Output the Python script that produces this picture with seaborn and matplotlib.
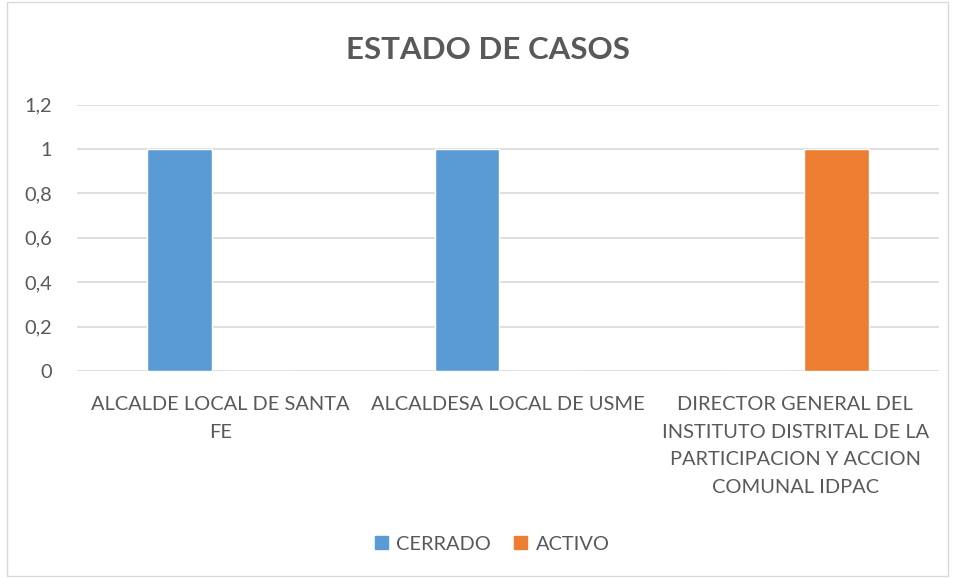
import matplotlib
matplotlib.use("Agg")
import matplotlib.pyplot as plt
import seaborn as sns
import pandas as pd
from matplotlib.patches import Rectangle

categories = ["ALCALDE LOCAL DE SANTA\nFE",
              "ALCALDESA LOCAL DE USME",
              "DIRECTOR GENERAL DEL\nINSTITUTO DISTRITAL DE LA\nPARTICIPACION Y ACCION\nCOMUNAL IDPAC"]
series = ["CERRADO", "ACTIVO"]
cerrado = [1, 1, 0]
activo = [0, 0, 1]
yticks = [0, 0.2, 0.4, 0.6, 0.8, 1, 1.2]
ytick_labels = ["0", "0,2", "0,4", "0,6", "0,8", "1", "1,2"]
colors = ["#5B9BD5", "#ED7D31"]

df = pd.DataFrame({
    "cat": categories * 2,
    "serie": [series[0]] * 3 + [series[1]] * 3,
    "val": cerrado + activo,
})

sns.set_theme(style="white")
plt.rcParams["font.family"] = ["Lato", "DejaVu Sans"]
txt = "#595959"

fig = plt.figure(figsize=(9.56, 5.78), dpi=100)
ax = fig.add_axes([77/956, 1 - 371/578, (939-77)/956, (371-104.7)/578])

sns.barplot(data=df, x="cat", y="val", hue="serie", palette=colors,
            width=0.57, gap=0.21, ax=ax, legend=False, saturation=1)

ax.set_ylim(0, 1.2)
ax.set_xlim(-0.5, 2.5)
ax.set_yticks(yticks)
ax.set_yticklabels(ytick_labels)
ax.yaxis.grid(True, color="#D9D9D9", linewidth=1.2)
ax.set_axisbelow(True)
for s in ax.spines.values():
    s.set_visible(False)
ax.tick_params(axis="both", length=0, colors=txt, labelsize=14.4)
ax.tick_params(axis="y", pad=18)
ax.tick_params(axis="x", pad=18)
for lab in ax.get_yticklabels():
    lab.set_horizontalalignment("right")
ax.set_xlabel("")
ax.set_ylabel("")
for lab in ax.get_xticklabels():
    lab.set_linespacing(1.76)

fig.text(488/956, 1 - 50/578, "ESTADO DE CASOS", ha="center", va="center",
         fontsize=22.5, fontweight="bold", color=txt)

handles = [Rectangle((0, 0), 1, 1, color=c) for c in colors]
fig.legend(handles, series, loc="center", bbox_to_anchor=(492/956, 1 - 544/578),
           ncol=2, frameon=False, fontsize=14.4, labelcolor=txt,
           handlelength=0.65, handleheight=0.65, handletextpad=0.4, columnspacing=1.2)

fig.patches.append(Rectangle((7/956, 2/578), (948-7)/956, (576-2)/578,
                             transform=fig.transFigure, fill=False,
                             edgecolor="#D9D9D9", linewidth=1))

fig.savefig("out.png", dpi=100, facecolor="white")
